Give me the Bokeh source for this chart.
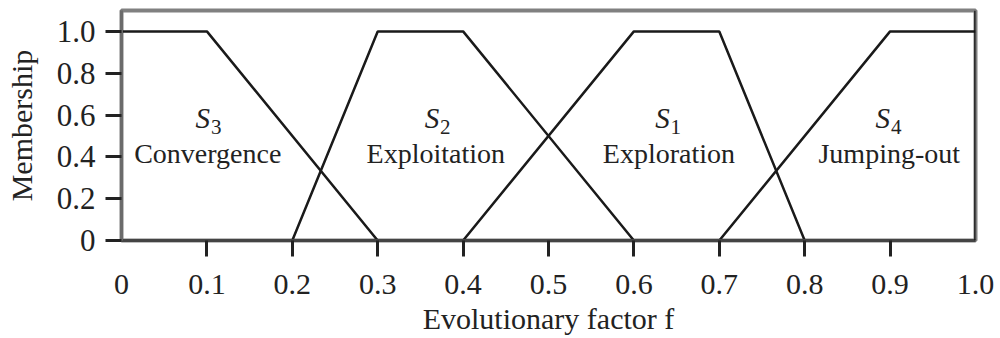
from bokeh.plotting import figure
from bokeh.models import Range1d, FixedTicker, Label, Span, LinearAxis, CustomLabelingPolicy
from bokeh.embed import file_html
from bokeh.resources import INLINE

# membership functions
s3_x = [0.0, 0.1, 0.3]
s3_y = [1.0, 1.0, 0.0]
s2_x = [0.2, 0.3, 0.4, 0.6]
s2_y = [0.0, 1.0, 1.0, 0.0]
s1_x = [0.4, 0.6, 0.7, 0.8]
s1_y = [0.0, 1.0, 1.0, 0.0]
s4_x = [0.7, 0.9, 1.0]
s4_y = [0.0, 1.0, 1.0]

x_tick_marks = [0.1, 0.2, 0.3, 0.4, 0.5, 0.6, 0.7, 0.8, 0.9]
x_ticks = [0.0, 0.1, 0.2, 0.3, 0.4, 0.5, 0.6, 0.7, 0.8, 0.9, 1.0]
x_tick_labels = ["0", "0.1", "0.2", "0.3", "0.4", "0.5", "0.6", "0.7", "0.8", "0.9", "1.0"]
y_ticks = [0.0, 0.2, 0.4, 0.6, 0.8, 1.0]
y_tick_labels = ["0", "0.2", "0.4", "0.6", "0.8", "1.0"]

state_subs = ["3", "2", "1", "4"]
state_names = ["Convergence", "Exploitation", "Exploration", "Jumping-out"]
state_name_x = [0.101, 0.368, 0.641, 0.899]
state_s_x = [0.0867, 0.355, 0.625, 0.883]

FONT = "Liberation Serif"
LINE = "#1a1a1a"
TXT = "#222222"

p = figure(width=1000, height=338, output_backend="svg", toolbar_location=None,
           x_range=Range1d(0, 1.0), y_range=Range1d(0, 1.1),
           min_border_left=121, min_border_right=25, min_border_top=10,
           min_border_bottom=98)
p.background_fill_color = "white"
p.border_fill_color = "white"
p.grid.visible = False
p.outline_line_color = "#808080"
p.outline_line_width = 4

for xs, ys in [(s3_x, s3_y), (s2_x, s2_y), (s1_x, s1_y), (s4_x, s4_y)]:
    p.line(xs, ys, line_color=LINE, line_width=2.5)

# x axis: tick marks only (no marks at 0 and 1.0), labels suppressed
xa = p.xaxis[0]
xa.ticker = FixedTicker(ticks=x_tick_marks)
xa.axis_line_color = "#444444"
xa.axis_line_width = 3
xa.major_tick_line_color = "#222222"
xa.major_tick_line_width = 3
xa.major_tick_out = 16
xa.major_tick_in = 0
xa.minor_tick_line_color = None
xa.major_label_standoff = 0
xa.major_label_policy = CustomLabelingPolicy(code="""
for (const i of indices)
    indices.unset(i)
return indices
""")

# x axis: labels only
xl = LinearAxis(ticker=FixedTicker(ticks=x_ticks))
xl.major_label_overrides = {t: l for t, l in zip(x_ticks, x_tick_labels)}
xl.axis_line_color = None
xl.major_tick_line_color = None
xl.minor_tick_line_color = None
xl.major_label_text_font = FONT
xl.major_label_text_font_size = "30px"
xl.major_label_text_color = TXT
xl.major_label_standoff = 1
xl.axis_label = "Evolutionary factor f"
xl.axis_label_text_font = FONT
xl.axis_label_text_font_size = "30px"
xl.axis_label_text_font_style = "normal"
xl.axis_label_text_color = TXT
xl.axis_label_standoff = 5
p.add_layout(xl, "below")

ya = p.yaxis[0]
ya.ticker = FixedTicker(ticks=y_ticks)
ya.major_label_overrides = {t: l for t, l in zip(y_ticks, y_tick_labels)}
ya.axis_line_color = "#6b6b6b"
ya.axis_line_width = 3
ya.major_tick_line_color = "#222222"
ya.major_tick_line_width = 3
ya.major_tick_out = 16
ya.major_tick_in = 0
ya.minor_tick_line_color = None
ya.major_label_text_font = FONT
ya.major_label_text_font_size = "31px"
ya.major_label_text_color = TXT
ya.major_label_standoff = 10
ya.axis_label = "Membership"
ya.axis_label_text_font = FONT
ya.axis_label_text_font_size = "30px"
ya.axis_label_text_font_style = "normal"
ya.axis_label_text_color = TXT
ya.axis_label_standoff = 16

p.add_layout(Span(location=1.0, dimension="height", line_color="#111111", line_width=2.5))

# state labels
for sx, sub, nx, name in zip(state_s_x, state_subs, state_name_x, state_names):
    p.add_layout(Label(x=sx, y=0.584, text="S", text_font=FONT, text_font_size="29px",
                       text_font_style="italic", text_color=TXT, text_align="left",
                       text_baseline="alphabetic"))
    p.add_layout(Label(x=sx + 0.018, y=0.545, text=sub, text_font=FONT, text_font_size="21px",
                       text_color=TXT, text_align="left", text_baseline="alphabetic"))
    p.add_layout(Label(x=nx, y=0.418, text=name, text_font=FONT, text_font_size="28px",
                       text_color=TXT, text_align="center", text_baseline="alphabetic"))

open("out.html", "w").write(file_html(p, INLINE))
